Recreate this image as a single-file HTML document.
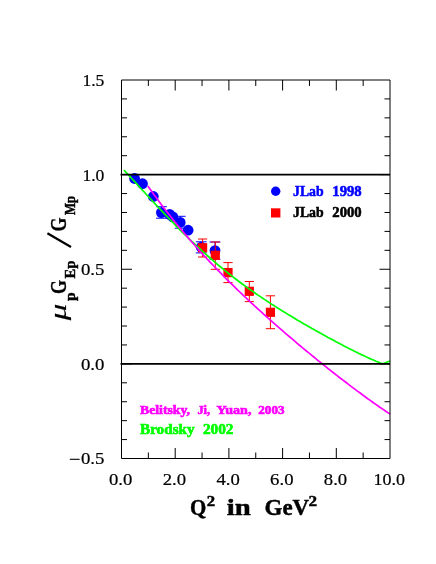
<!DOCTYPE html><html><head><meta charset="utf-8"><style>html,body{margin:0;padding:0;background:#fff}svg{display:block;will-change:transform}text{font-family:"Liberation Serif",serif}</style></head><body>
<svg width="436" height="564" viewBox="0 0 436 564">
<rect width="436" height="564" fill="#fff"/>
<g stroke="#0000ff" stroke-width="1" fill="#0000ff">
<circle cx="134.6" cy="178.5" r="5.4" stroke="none"/>
<circle cx="142.5" cy="183.7" r="5.4" stroke="none"/>
<circle cx="153.3" cy="196.5" r="5.4" stroke="none"/>
<path d="M161.4 206.7V218.2M156.0 206.7h10.8M156.0 218.2h10.8" fill="none"/>
<circle cx="161.4" cy="212.6" r="5.4" stroke="none"/>
<circle cx="169.6" cy="214.4" r="5.4" stroke="none"/>
<circle cx="172.8" cy="216.9" r="5.4" stroke="none"/>
<path d="M180.2 216.3V228.2M174.8 216.3h10.8M174.8 228.2h10.8" fill="none"/>
<circle cx="180.2" cy="222.4" r="5.4" stroke="none"/>
<circle cx="188.1" cy="230.2" r="5.4" stroke="none"/>
<path d="M201.2 241.8V252.9M195.8 241.8h10.8M195.8 252.9h10.8" fill="none"/>
<circle cx="201.2" cy="247.2" r="5.4" stroke="none"/>
<path d="M215.0 242.0V259.2M209.6 242.0h10.8M209.6 259.2h10.8" fill="none"/>
<circle cx="215.0" cy="250.6" r="5.4" stroke="none"/>
</g>
<g stroke="#ff0000" stroke-width="1" fill="#ff0000">
<path d="M202.6 239.0V257.0M198.0 239.0h9.2M198.0 257.0h9.2" fill="none"/>
<rect x="198.0" y="243.2" width="9.2" height="9.2" stroke="none"/>
<path d="M215.3 242.0V269.3M210.7 242.0h9.2M210.7 269.3h9.2" fill="none"/>
<rect x="210.7" y="250.7" width="9.2" height="9.2" stroke="none"/>
<path d="M228.0 262.6V282.6M223.4 262.6h9.2M223.4 282.6h9.2" fill="none"/>
<rect x="223.4" y="268.0" width="9.2" height="9.2" stroke="none"/>
<path d="M249.3 281.5V301.6M244.7 281.5h9.2M244.7 301.6h9.2" fill="none"/>
<rect x="244.7" y="286.7" width="9.2" height="9.2" stroke="none"/>
<path d="M270.4 295.8V328.7M265.8 295.8h9.2M265.8 328.7h9.2" fill="none"/>
<rect x="265.8" y="307.7" width="9.2" height="9.2" stroke="none"/>
</g>
<path d="M124.0 170.2L126.0 172.3L128.0 174.4L130.0 176.6L132.0 178.8L134.0 180.9L136.0 183.1L138.0 185.3L140.0 187.5L142.0 189.7L144.0 191.8L146.0 194.0L148.0 196.2L150.0 198.3L152.0 200.5L154.0 202.7L156.0 204.8L158.0 207.0L160.0 209.1L162.0 211.2L164.0 213.3L166.0 215.4L168.0 217.5L170.0 219.6L172.0 221.7L174.0 223.7L176.0 225.8L178.0 227.8L180.0 229.8L182.0 231.8L184.0 233.8L186.0 235.7L188.0 237.7L190.0 239.6L192.0 241.5L194.0 243.4L196.0 245.3L198.0 247.2L200.0 249.0L202.0 250.8L204.0 252.6L206.0 254.4L208.0 256.2L210.0 258.0L212.0 259.7L214.0 261.4L216.0 263.1L218.0 264.8L220.0 266.5L222.0 268.1L224.0 269.7L226.0 271.4L228.0 273.0L230.0 274.5L232.0 276.1L234.0 277.7L236.0 279.2L238.0 280.7L240.0 282.2L242.0 283.7L244.0 285.2L246.0 286.6L248.0 288.1L250.0 289.5L252.0 290.9L254.0 292.3L256.0 293.7L258.0 295.1L260.0 296.4L262.0 297.8L264.0 299.1L266.0 300.4L268.0 301.8L270.0 303.1L272.0 304.4L274.0 305.6L276.0 306.9L278.0 308.2L280.0 309.4L282.0 310.7L284.0 311.9L286.0 313.1L288.0 314.4L290.0 315.6L292.0 316.8L294.0 318.0L296.0 319.2L298.0 320.4L300.0 321.5L302.0 322.7L304.0 323.9L306.0 325.0L308.0 326.2L310.0 327.3L312.0 328.5L314.0 329.6L316.0 330.7L318.0 331.8L320.0 333.0L322.0 334.1L324.0 335.2L326.0 336.3L328.0 337.4L330.0 338.4L332.0 339.5L334.0 340.6L336.0 341.7L338.0 342.7L340.0 343.8L342.0 344.8L344.0 345.9L346.0 346.9L348.0 347.9L350.0 349.0L352.0 350.0L354.0 351.0L356.0 352.0L358.0 352.9L360.0 353.9L362.0 354.9L364.0 355.8L366.0 356.8L368.0 357.7L370.0 358.6L372.0 359.5L374.0 360.3L376.0 361.2L378.0 362.0L380.0 362.9L382.0 363.7L384.0 363.3L386.0 362.6L388.0 361.8L390.0 361.1" fill="none" stroke="#00ff00" stroke-width="1.7" stroke-linejoin="round"/>
<path d="M147.8 185.9L149.8 188.8L151.8 191.6L153.8 194.4L155.8 197.1L157.8 199.8L159.8 202.5L161.8 205.2L163.8 207.8L165.8 210.4L167.8 213.0L169.8 215.5L171.8 218.1L173.8 220.6L175.8 223.0L177.8 225.5L179.8 227.9L181.8 230.3L183.8 232.7L185.8 235.0L187.8 237.4L189.8 239.7L191.8 242.0L193.8 244.3L195.8 246.5L197.8 248.8L199.8 251.0L201.8 253.2L203.8 255.4L205.8 257.5L207.8 259.7L209.8 261.8L211.8 263.9L213.8 266.0L215.8 268.1L217.8 270.2L219.8 272.2L221.8 274.2L223.8 276.3L225.8 278.3L227.8 280.3L229.8 282.3L231.8 284.2L233.8 286.2L235.8 288.1L237.8 290.1L239.8 292.0L241.8 293.9L243.8 295.8L245.8 297.7L247.8 299.6L249.8 301.4L251.8 303.3L253.8 305.1L255.8 307.0L257.8 308.8L259.8 310.6L261.8 312.4L263.8 314.3L265.8 316.0L267.8 317.8L269.8 319.6L271.8 321.4L273.8 323.2L275.8 324.9L277.8 326.7L279.8 328.4L281.8 330.1L283.8 331.9L285.8 333.6L287.8 335.3L289.8 337.0L291.8 338.7L293.8 340.4L295.8 342.1L297.8 343.8L299.8 345.5L301.8 347.1L303.8 348.8L305.8 350.5L307.8 352.1L309.8 353.7L311.8 355.4L313.8 357.0L315.8 358.6L317.8 360.3L319.8 361.9L321.8 363.5L323.8 365.1L325.8 366.7L327.8 368.3L329.8 369.9L331.8 371.5L333.8 373.0L335.8 374.6L337.8 376.2L339.8 377.7L341.8 379.2L343.8 380.8L345.8 382.3L347.8 383.8L349.8 385.4L351.8 386.9L353.8 388.4L355.8 389.9L357.8 391.4L359.8 392.8L361.8 394.3L363.8 395.8L365.8 397.2L367.8 398.7L369.8 400.1L371.8 401.5L373.8 403.0L375.8 404.4L377.8 405.8L379.8 407.2L381.8 408.5L383.8 409.9L385.8 411.3L387.8 412.6L389.8 413.9L390.0 414.1" fill="none" stroke="#ff00ff" stroke-width="1.7" stroke-linejoin="round"/>
<path d="M120.5 174.6H390.0M120.5 363.9H390.0" stroke="#000" stroke-width="1.8" fill="none"/>
<path d="M121.5 80.0H390.0V458.5H121.5ZM148.35 80.0v6M148.35 458.5v-6M175.20 80.0v10.5M175.20 458.5v-10.5M202.05 80.0v6M202.05 458.5v-6M228.90 80.0v10.5M228.90 458.5v-10.5M255.75 80.0v6M255.75 458.5v-6M282.60 80.0v10.5M282.60 458.5v-10.5M309.45 80.0v6M309.45 458.5v-6M336.30 80.0v10.5M336.30 458.5v-10.5M363.15 80.0v6M363.15 458.5v-6M121.5 439.57h5.5M390.0 439.57h-5.5M121.5 420.65h5.5M390.0 420.65h-5.5M121.5 401.72h5.5M390.0 401.72h-5.5M121.5 382.80h5.5M390.0 382.80h-5.5M121.5 363.88h10.5M390.0 363.88h-10.5M121.5 344.95h5.5M390.0 344.95h-5.5M121.5 326.02h5.5M390.0 326.02h-5.5M121.5 307.10h5.5M390.0 307.10h-5.5M121.5 288.18h5.5M390.0 288.18h-5.5M121.5 269.25h10.5M390.0 269.25h-10.5M121.5 250.32h5.5M390.0 250.32h-5.5M121.5 231.40h5.5M390.0 231.40h-5.5M121.5 212.47h5.5M390.0 212.47h-5.5M121.5 193.55h5.5M390.0 193.55h-5.5M121.5 174.62h10.5M390.0 174.62h-10.5M121.5 155.70h5.5M390.0 155.70h-5.5M121.5 136.77h5.5M390.0 136.77h-5.5M121.5 117.85h5.5M390.0 117.85h-5.5M121.5 98.92h5.5M390.0 98.92h-5.5" stroke="#000" stroke-width="1" fill="none"/>
<text x="109.0" y="485.1" font-size="16.3" fill="#000" stroke="#000" stroke-width="0.2" textLength="23.4" lengthAdjust="spacingAndGlyphs">0.0</text>
<text x="162.7" y="485.1" font-size="16.3" fill="#000" stroke="#000" stroke-width="0.2" textLength="23.4" lengthAdjust="spacingAndGlyphs">2.0</text>
<text x="216.4" y="485.1" font-size="16.3" fill="#000" stroke="#000" stroke-width="0.2" textLength="23.4" lengthAdjust="spacingAndGlyphs">4.0</text>
<text x="270.1" y="485.1" font-size="16.3" fill="#000" stroke="#000" stroke-width="0.2" textLength="23.4" lengthAdjust="spacingAndGlyphs">6.0</text>
<text x="323.8" y="485.1" font-size="16.3" fill="#000" stroke="#000" stroke-width="0.2" textLength="23.4" lengthAdjust="spacingAndGlyphs">8.0</text>
<text x="373.4" y="485.1" font-size="16.3" fill="#000" stroke="#000" stroke-width="0.2" textLength="31.5" lengthAdjust="spacingAndGlyphs">10.0</text>
<text x="82.4" y="85.9" font-size="16.3" fill="#000" stroke="#000" stroke-width="0.2" textLength="22.0" lengthAdjust="spacingAndGlyphs">1.5</text>
<text x="82.4" y="180.5" font-size="16.3" fill="#000" stroke="#000" stroke-width="0.2" textLength="22.0" lengthAdjust="spacingAndGlyphs">1.0</text>
<text x="80.9" y="275.1" font-size="16.3" fill="#000" stroke="#000" stroke-width="0.2" textLength="23.5" lengthAdjust="spacingAndGlyphs">0.5</text>
<text x="80.9" y="369.8" font-size="16.3" fill="#000" stroke="#000" stroke-width="0.2" textLength="23.5" lengthAdjust="spacingAndGlyphs">0.0</text>
<text x="80.9" y="464.4" font-size="16.3" fill="#000" stroke="#000" stroke-width="0.2" textLength="23.5" lengthAdjust="spacingAndGlyphs">0.5</text>
<path d="M69.8 459.3h9.8" stroke="#000" stroke-width="1.1"/>
<circle cx="275.7" cy="191.2" r="4.7" fill="#0000ff"/>
<rect x="271" y="208.3" width="9.4" height="9.2" fill="#ff0000"/>
<text x="293.0" y="196.4" font-size="14.2" fill="#0000ff" font-weight="bold" stroke="#0000ff" stroke-width="0.55" textLength="30.6" lengthAdjust="spacingAndGlyphs">JLab</text>
<text x="332.3" y="196.4" font-size="14.2" fill="#0000ff" font-weight="bold" stroke="#0000ff" stroke-width="0.55" textLength="29.4" lengthAdjust="spacingAndGlyphs">1998</text>
<text x="293.0" y="217.0" font-size="14.2" fill="#000" font-weight="bold" stroke="#000" stroke-width="0.55" textLength="30.6" lengthAdjust="spacingAndGlyphs">JLab</text>
<text x="332.3" y="217.0" font-size="14.2" fill="#000" font-weight="bold" stroke="#000" stroke-width="0.55" textLength="29.4" lengthAdjust="spacingAndGlyphs">2000</text>
<text x="140.0" y="413.8" font-size="11.8" fill="#ff00ff" font-weight="bold" stroke="#ff00ff" stroke-width="0.6" textLength="50.0" lengthAdjust="spacingAndGlyphs">Belitsky,</text>
<text x="197.4" y="413.8" font-size="11.8" fill="#ff00ff" font-weight="bold" stroke="#ff00ff" stroke-width="0.6" textLength="12.8" lengthAdjust="spacingAndGlyphs">Ji,</text>
<text x="216.4" y="413.8" font-size="11.8" fill="#ff00ff" font-weight="bold" stroke="#ff00ff" stroke-width="0.6" textLength="35.0" lengthAdjust="spacingAndGlyphs">Yuan,</text>
<text x="258.3" y="413.8" font-size="11.8" fill="#ff00ff" font-weight="bold" stroke="#ff00ff" stroke-width="0.6" textLength="26.2" lengthAdjust="spacingAndGlyphs">2003</text>
<text x="140.0" y="434.0" font-size="13.9" fill="#00ff00" font-weight="bold" stroke="#00ff00" stroke-width="0.6" textLength="54.6" lengthAdjust="spacingAndGlyphs">Brodsky</text>
<text x="202.9" y="434.0" font-size="13.9" fill="#00ff00" font-weight="bold" stroke="#00ff00" stroke-width="0.6" textLength="30.6" lengthAdjust="spacingAndGlyphs">2002</text>
<text x="190.0" y="515.0" font-size="24" fill="#000" font-weight="bold" stroke="#000" stroke-width="0.45" textLength="16.3" lengthAdjust="spacingAndGlyphs">Q</text>
<text x="206.8" y="505.9" font-size="15.6" fill="#000" font-weight="bold" stroke="#000" stroke-width="0.45" textLength="8.4" lengthAdjust="spacingAndGlyphs">2</text>
<text x="226.8" y="515.0" font-size="23" fill="#000" font-weight="bold" stroke="#000" stroke-width="0.45" textLength="24.0" lengthAdjust="spacingAndGlyphs">in</text>
<text x="264.6" y="515.0" font-size="23" fill="#000" font-weight="bold" stroke="#000" stroke-width="0.45" textLength="44.6" lengthAdjust="spacingAndGlyphs">GeV</text>
<text x="308.6" y="505.9" font-size="15.6" fill="#000" font-weight="bold" stroke="#000" stroke-width="0.45" textLength="8.6" lengthAdjust="spacingAndGlyphs">2</text>
<g transform="translate(66,320) rotate(-90)">
<text x="-0.2" y="0.0" font-size="24" fill="#000" font-style="italic" stroke="#000" stroke-width="0.2" textLength="16.5" lengthAdjust="spacingAndGlyphs">μ</text>
<text x="19.0" y="9.0" font-size="14.5" fill="#000" font-weight="bold" stroke="#000" stroke-width="0.45" textLength="8.7" lengthAdjust="spacingAndGlyphs">p</text>
<text x="26.0" y="0.3" font-size="24" fill="#000" font-weight="bold" stroke="#000" stroke-width="0.35" textLength="14.0" lengthAdjust="spacingAndGlyphs">G</text>
<text x="41.5" y="8.7" font-size="14.5" fill="#000" font-weight="bold" stroke="#000" stroke-width="0.45" textLength="17.7" lengthAdjust="spacingAndGlyphs">Ep</text>
<path d="M73 5L86.8 -18.6" stroke="#000" stroke-width="2.2" fill="none"/>
<text x="88.5" y="0.3" font-size="24" fill="#000" font-weight="bold" stroke="#000" stroke-width="0.35" textLength="14.0" lengthAdjust="spacingAndGlyphs">G</text>
<text x="105.0" y="8.7" font-size="14.5" fill="#000" font-weight="bold" stroke="#000" stroke-width="0.45" textLength="19.2" lengthAdjust="spacingAndGlyphs">Mp</text>
</g>
</svg></body></html>
